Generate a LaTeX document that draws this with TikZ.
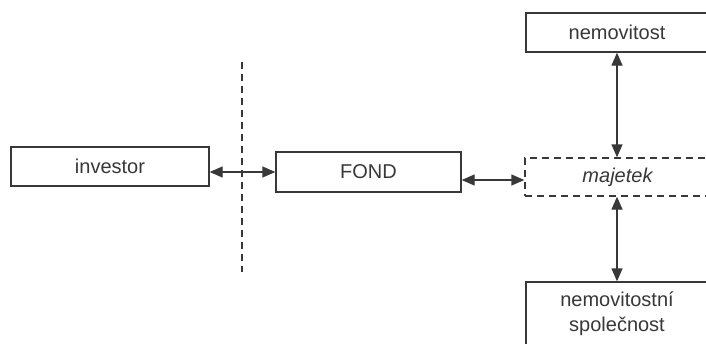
\documentclass[tikz,border=0pt]{standalone}
\usepackage{fontspec}
\setmainfont{Liberation Sans}
\usetikzlibrary{arrows.meta}
\definecolor{ink}{gray}{0.22}
\tikzset{
  box/.style={draw=ink, line width=1.4pt, rectangle, inner sep=0pt, align=center,
    font=\fontsize{20}{25}\selectfont, text=ink},
  arr/.style={draw=ink, line width=1.4pt, {Triangle[length=13pt,width=11pt]}-{Triangle[length=13pt,width=11pt]}},
  sep/.style={draw=ink, line width=1.3pt, dash pattern=on 7pt off 5pt}
}
\begin{document}
\begin{tikzpicture}[x=1pt,y=-1pt]
\useasboundingbox (0,0) rectangle (706,343);
\clip (0,0) rectangle (706,343);
\fill[white] (0,0) rectangle (706,343);
\node[box, minimum width=198pt, minimum height=39pt] (inv) at (110,166.5) {investor};
\node[box, minimum width=185pt, minimum height=40pt] (fond) at (368.5,172) {FOND};
\node[box, dash pattern=on 7pt off 5pt, minimum width=185pt, minimum height=38pt, font=\fontsize{20}{25}\selectfont\itshape] (maj) at (617.5,177) {majetek};
\node[box, minimum width=182pt, minimum height=39pt] (nem) at (617,32.5) {nemovitost};
\node[box, minimum width=182pt, minimum height=64pt] (spol) at (617,314) {nemovitostní\\společnost};
\coordinate (st) at (242,62);
\coordinate (sb) at (242,272);
\draw[sep] (st) -- (sb);
\draw[arr] (inv.east |- fond.west) -- (fond.west);
\draw[arr] ([yshift=-8pt]fond.east) -- ([yshift=-8pt]fond.east -| maj.west);
\draw[arr] (nem.south) -- (nem.south |- maj.north);
\draw[arr] (nem.south |- maj.south) -- (nem.south |- spol.north);
\end{tikzpicture}
\end{document}
